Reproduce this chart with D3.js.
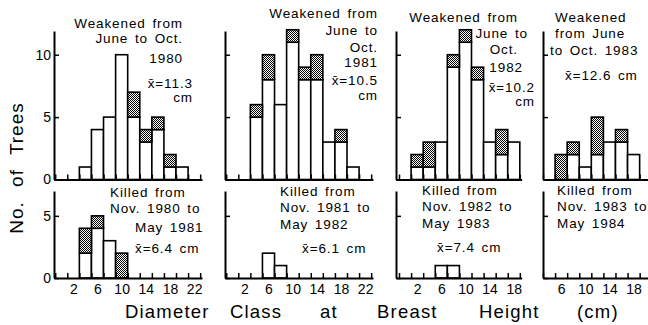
<!DOCTYPE html>
<html>
<head>
<meta charset="utf-8">
<script src="https://cdn.jsdelivr.net/npm/d3@7"></script>
<style>
body { margin: 0; background: #fff; }
text { font-family: "Liberation Sans", Arial, sans-serif; fill: #000; }
</style>
</head>
<body>
<div id="chart"></div>
<script>
// diameter classes (cm) and number of trees: plain part + dotted part of each bar
var classesW1980 = [4, 6, 8, 10, 12, 14, 16, 18, 20]
var plainW1980 = [1, 4, 5, 10, 5, 3, 4, 1, 1]
var dottedW1980 = [0, 0, 0, 0, 2, 1, 1, 1, 0]

var classesW1981 = [4, 6, 8, 10, 12, 14, 16, 18, 20]
var plainW1981 = [5, 8, 6, 11, 8, 8, 3, 3, 1]
var dottedW1981 = [1, 2, 0, 1, 1, 2, 0, 1, 0]

var classesW1982 = [2, 4, 6, 8, 10, 12, 14, 16, 18]
var plainW1982 = [1, 1, 3, 9, 11, 8, 3, 2, 3]
var dottedW1982 = [1, 2, 0, 1, 1, 1, 0, 2, 0]

var classesW1983 = [6, 8, 10, 12, 14, 16, 18]
var plainW1983 = [0, 2, 1, 2, 3, 3, 2]
var dottedW1983 = [2, 1, 0, 3, 0, 1, 0]

var classesK1981 = [4, 6, 8, 10]
var plainK1981 = [2, 4, 3, 0]
var dottedK1981 = [2, 1, 0, 2]

var classesK1982 = [6, 8]
var plainK1982 = [2, 1]
var dottedK1982 = [0, 0]

var classesK1983 = [6, 8]
var plainK1983 = [1, 1]
var dottedK1983 = [0, 0]

var classesK1984 = []
var plainK1984 = []
var dottedK1984 = []

// tick labels
var xLabelsWide = [2, 6, 10, 14, 18, 22]
var xLabels1982 = [2, 6, 10, 14, 18]
var xLabels1983 = [6, 10, 14, 18]
var yTicksTop = [0, 5, 10]
var yTicksBottom = [0, 5]

// panel notes
var textW1980 = ["Weakened from", "June to Oct.", "1980", "x\u0304=11.3", "cm"]
var textW1981 = ["Weakened from", "June to", "Oct.", "1981", "x\u0304=10.5", "cm"]
var textW1982 = ["Weakened from", "June to", "Oct.", "1982", "x\u0304=10.2", "cm"]
var textW1983 = ["Weakened", "from June", "to Oct. 1983", "x\u0304=12.6 cm"]
var textK1981 = ["Killed from", "Nov. 1980 to", "May 1981", "x\u0304=6.4 cm"]
var textK1982 = ["Killed from", "Nov. 1981 to", "May 1982", "x\u0304=6.1 cm"]
var textK1983 = ["Killed from", "Nov. 1982 to", "May 1983", "x\u0304=7.4 cm"]
var textK1984 = ["Killed from", "Nov. 1983 to", "May 1984"]

var yTitle = "No. of Trees"
var xTitleWords = ["Diameter", "Class", "at", "Breast", "Height", "(cm)"]

var W = 648, H = 325
var pxPerCm = 6.04

var svg = d3.select("#chart")
  .append("svg")
    .attr("width", W)
    .attr("height", H)

// stipple pattern for the dotted part of the bars
var pat = svg.append("defs").append("pattern")
  .attr("id", "dots")
  .attr("patternUnits", "userSpaceOnUse")
  .attr("width", 2)
  .attr("height", 2)
pat.append("rect").attr("width", 2).attr("height", 2).attr("fill", "#fff")
pat.append("rect").attr("x", 0).attr("y", 0).attr("width", 1).attr("height", 1).attr("fill", "#000")
pat.append("rect").attr("x", 1).attr("y", 1).attr("width", 1).attr("height", 1).attr("fill", "#000")

// vertical scales, shared by each row
var yTop = d3.scaleLinear().domain([0, 11.9]).range([179.5, 31])
var yBot = d3.scaleLinear().domain([0, 7.0]).range([278, 191])

function odds(lo, hi) {
  var out = []
  for (var v = Math.ceil(lo); v <= hi; v++) if (Math.abs(v % 2) == 1) out.push(v)
  return out
}

function panel(left, dom, y, yTicks, showY, xLabels, classes, plain, dotted) {
  var x = d3.scaleLinear()
    .domain(dom)
    .range([left, left + (dom[1] - dom[0]) * pxPerCm])
  var g = svg.append("g")

  // bars: plain part at the bottom, dotted part stacked on top
  var bars = g.selectAll(".bar")
    .data(classes.map(function(c, i) { return {c: c, p: plain[i], d: dotted[i]} }))
    .enter()
  bars.filter(function(d) { return d.p > 0 })
    .append("rect")
      .attr("x", function(d) { return x(d.c - 1) })
      .attr("width", function(d) { return x(d.c + 1) - x(d.c - 1) })
      .attr("y", function(d) { return y(d.p) })
      .attr("height", function(d) { return y(0) - y(d.p) })
      .attr("fill", "#fff")
      .attr("stroke", "#000")
      .attr("stroke-width", 1.6)
  bars.filter(function(d) { return d.d > 0 })
    .append("rect")
      .attr("x", function(d) { return x(d.c - 1) })
      .attr("width", function(d) { return x(d.c + 1) - x(d.c - 1) })
      .attr("y", function(d) { return y(d.p + d.d) })
      .attr("height", function(d) { return y(d.p) - y(d.p + d.d) })
      .attr("fill", "url(#dots)")
      .attr("stroke", "#000")
      .attr("stroke-width", 1.6)

  // bottom axis: ticks on class boundaries, pointing up
  var xa = g.append("g")
    .attr("transform", "translate(0," + y(0) + ")")
    .call(d3.axisBottom(x).tickValues(odds(dom[0], dom[1])).tickSizeInner(-5).tickSizeOuter(0).tickFormat(""))
  xa.select(".domain").attr("stroke-width", 2)
  xa.selectAll(".tick line").attr("stroke-width", 1.5)

  if (xLabels) {
    var xl = g.append("g")
      .attr("transform", "translate(0," + y(0) + ")")
      .call(d3.axisBottom(x).tickValues(xLabels).tickSize(0).tickPadding(6))
    xl.select(".domain").remove()
    xl.selectAll("text")
      .attr("font-family", null)
      .style("font-size", "14px")
  }

  // left axis with ticks pointing in
  var ya = g.append("g")
    .attr("transform", "translate(" + left + ",0)")
    .call(d3.axisLeft(y).tickValues(yTicks).tickSizeInner(-5).tickSizeOuter(0).tickPadding(3)
      .tickFormat(showY ? d3.format("d") : ""))
  ya.select(".domain").attr("stroke-width", 2)
  ya.selectAll(".tick line").attr("stroke-width", 1.5)
  ya.selectAll("text")
    .attr("font-family", null)
    .style("font-size", "14px")
  return g
}

function note(lines, pos) {
  lines.forEach(function(t, i) {
    svg.append("text")
      .attr("x", pos[i][0])
      .attr("y", pos[i][1])
      .attr("text-anchor", pos[i][2])
      .style("font-size", "13.5px")
      .style("letter-spacing", "0.9px")
      .style("word-spacing", "2px")
      .text(t)
  })
}

// top row: weakened trees
panel(54, [-1.2, 23.3], yTop, yTicksTop, true, null, classesW1980, plainW1980, dottedW1980)
panel(225, [-1.2, 23.3], yTop, yTicksTop, false, null, classesW1981, plainW1981, dottedW1981)
panel(396, [-1.5, 19.3], yTop, yTicksTop, false, null, classesW1982, plainW1982, dottedW1982)
panel(543, [3, 20.6], yTop, yTicksTop, false, null, classesW1983, plainW1983, dottedW1983)

// bottom row: killed trees
panel(54, [-1.2, 23.3], yBot, yTicksBottom, true, xLabelsWide, classesK1981, plainK1981, dottedK1981)
panel(225, [-1.2, 23.3], yBot, yTicksBottom, false, xLabelsWide, classesK1982, plainK1982, dottedK1982)
panel(396, [-1.5, 19.3], yBot, yTicksBottom, false, xLabels1982, classesK1983, plainK1983, dottedK1983)
panel(543, [3, 20.6], yBot, yTicksBottom, false, xLabels1983, classesK1984, plainK1984, dottedK1984)

note(textW1980, [[183, 28, "end"], [183, 43, "end"], [183, 63, "end"], [193, 88, "end"], [193, 102, "end"]])
note(textW1981, [[378, 18, "end"], [378, 35, "end"], [378, 52, "end"], [378, 67, "end"], [378, 85, "end"], [378, 100, "end"]])
note(textW1982, [[518, 22, "end"], [528, 38, "end"], [518, 54, "end"], [523, 72, "end"], [535, 92, "end"], [535, 106, "end"]])
note(textW1983, [[555, 22, "start"], [555, 38, "start"], [550, 55, "start"], [565, 80, "start"]])
note(textK1981, [[110, 197, "start"], [110, 213, "start"], [135, 232, "start"], [135, 253, "start"]])
note(textK1982, [[280, 196, "start"], [280, 212, "start"], [280, 229, "start"], [302, 253, "start"]])
note(textK1983, [[422, 195, "start"], [422, 211, "start"], [422, 228, "start"], [437, 252, "start"]])
note(textK1984, [[557, 195, "start"], [557, 211, "start"], [557, 228, "start"]])

// axis titles
svg.append("text")
  .attr("transform", "translate(23,168) rotate(-90)")
  .attr("text-anchor", "middle")
  .style("font-size", "19px")
  .style("letter-spacing", "1px")
  .style("word-spacing", "8px")
  .text(yTitle)

// x title words are spread across the bottom like the lettered original
var titleX = [125, 230, 320, 377, 479, 577]
svg.selectAll(".xtitle")
  .data(xTitleWords)
  .enter()
  .append("text")
    .attr("x", function(d, i) { return titleX[i] })
    .attr("y", 318)
    .style("font-size", "18.5px")
    .style("letter-spacing", "1.2px")
    .text(function(d) { return d })
</script>
</body>
</html>
